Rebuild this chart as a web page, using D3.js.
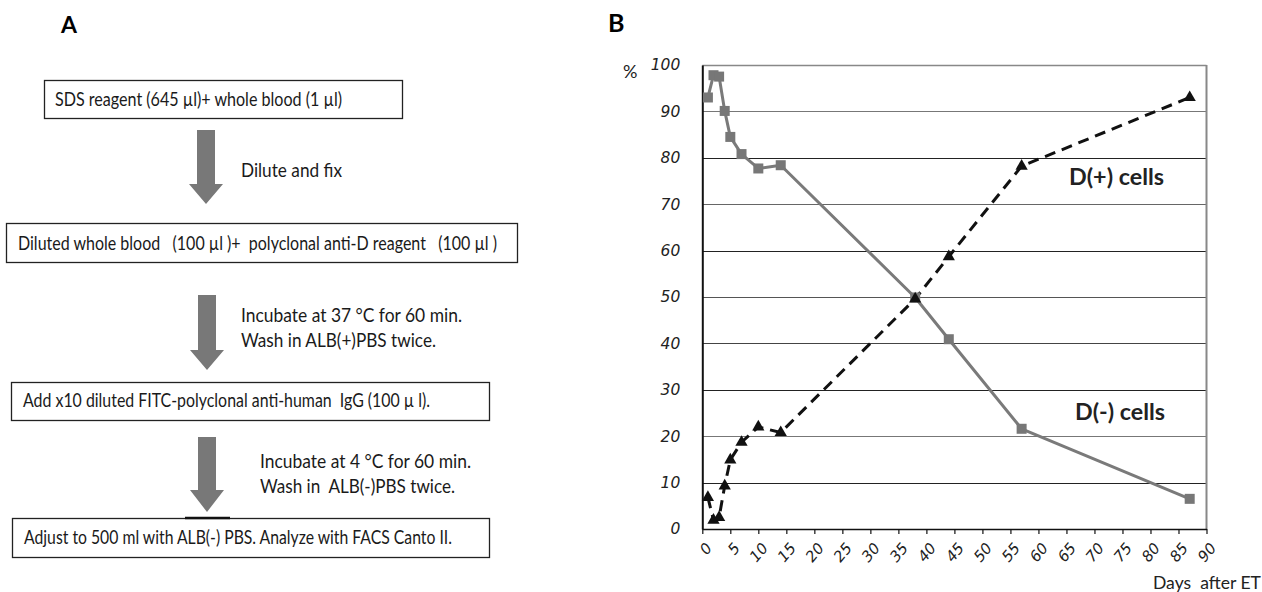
<!DOCTYPE html>
<html>
<head>
<meta charset="utf-8">
<script src="https://cdn.jsdelivr.net/npm/d3@7"></script>
<style>
  body { margin: 0; background: #fff; }
  svg { display: block; }
</style>
</head>
<body>
<div id="chart"></div>
<script>
// days after ET, and % of cells
const days = [1, 2, 3, 4, 5, 7, 10, 14, 38, 44, 57, 87]
const dNeg = [93, 97.8, 97.5, 90.1, 84.5, 80.8, 77.7, 78.4, 49.9, 40.9, 21.6, 6.5]
const dPos = [6.8, 1.9, 2.5, 9.3, 14.9, 18.7, 22, 20.8, 49.6, 58.7, 78.2, 93]
const yTicks = [0, 10, 20, 30, 40, 50, 60, 70, 80, 90, 100]
const xTicks = d3.range(0, 95, 5)

// panel A flow steps
const boxTexts = [
  'SDS reagent (645 \u00b5l)+ whole blood (1 \u00b5l)',
  'Diluted whole blood   (100 \u00b5l )+  polyclonal anti-D reagent   (100 \u00b5l )',
  'Add x10 diluted FITC-polyclonal anti-human  IgG (100 \u00b5 l).',
  'Adjust to 500 ml with ALB(-) PBS. Analyze with FACS Canto II.'
]
const stepTexts = [
  ['Dilute and fix'],
  ['Incubate at 37 \u00b0C for 60 min.', 'Wash in ALB(+)PBS twice.'],
  ['Incubate at 4 \u00b0C for 60 min.', 'Wash in  ALB(-)PBS twice.']
]

const svg = d3.select('#chart').append('svg')
  .attr('width', 1262).attr('height', 592)

const font = 'Lato, "Open Sans", sans-serif'
const tickFont = '"DejaVu Sans", Verdana, sans-serif'

// ---------- panel A ----------
svg.append('text').attr('x', 61).attr('y', 33)
  .attr('font-family', font).attr('font-weight', 'bold').attr('font-size', 23)
  .text('A')

const boxes = [
  { x: 44, y: 80, w: 358, h: 38, tx: 55, ty: 106, tl: 287 },
  { x: 6, y: 223, w: 511, h: 39, tx: 18, ty: 250, tl: 479 },
  { x: 11, y: 382, w: 478, h: 38, tx: 23, ty: 407, tl: 407 },
  { x: 12, y: 518, w: 477, h: 39, tx: 24, ty: 544, tl: 428 }
]
boxes.forEach((b, i) => {
  svg.append('rect')
    .attr('x', b.x + 0.5).attr('y', b.y + 0.5)
    .attr('width', b.w).attr('height', b.h)
    .attr('fill', 'none').attr('stroke', '#222').attr('stroke-width', 1.3)
  svg.append('text')
    .attr('x', b.tx).attr('y', b.ty)
    .attr('font-family', font).attr('font-size', 18.5).attr('fill', '#1a1a1a')
    .attr('textLength', b.tl).attr('lengthAdjust', 'spacingAndGlyphs')
    .style('white-space', 'pre')
    .text(boxTexts[i])
})
// little dark mark on the top of the last box
svg.append('line').attr('x1', 185).attr('x2', 230).attr('y1', 518).attr('y2', 518)
  .attr('stroke', '#111').attr('stroke-width', 2.5)

const arrows = [
  { cx: 206, top: 130, neck: 184, tip: 204 },
  { cx: 207, top: 295, neck: 350, tip: 370 },
  { cx: 207, top: 437, neck: 490, tip: 512 }
]
arrows.forEach(a => {
  const pts = [
    [a.cx - 9, a.top], [a.cx + 9, a.top], [a.cx + 9, a.neck], [a.cx + 17, a.neck],
    [a.cx, a.tip], [a.cx - 17, a.neck], [a.cx - 9, a.neck]
  ]
  svg.append('polygon').attr('points', pts.map(p => p.join(',')).join(' '))
    .attr('fill', '#787878')
})

const stepPos = [
  { x: 241, ys: [177], tl: [101] },
  { x: 241, ys: [322, 347], tl: [221, 195] },
  { x: 260, ys: [468, 493], tl: [211, 195] }
]
stepTexts.forEach((lines, i) => {
  lines.forEach((t, j) => {
    svg.append('text')
      .attr('x', stepPos[i].x).attr('y', stepPos[i].ys[j])
      .attr('font-family', font).attr('font-size', 19).attr('fill', '#1a1a1a')
      .attr('textLength', stepPos[i].tl[j]).attr('lengthAdjust', 'spacingAndGlyphs')
      .style('white-space', 'pre')
      .text(t)
  })
})

// ---------- panel B ----------
svg.append('text').attr('x', 608).attr('y', 32)
  .attr('font-family', font).attr('font-weight', 'bold').attr('font-size', 25)
  .text('B')

const x = d3.scaleLinear().domain([0, 90]).range([702.3, 1206.5])
const y = d3.scaleLinear().domain([0, 100]).range([529, 65])

// gridlines (the scan shows them in mixed greys)
const gridCol = { 10: '#222', 20: '#777', 30: '#222', 40: '#444', 50: '#555', 60: '#222', 70: '#666', 80: '#222', 90: '#777', 100: '#888' }
svg.append('g').selectAll('line')
  .data(yTicks.filter(d => d > 0))
  .join('line')
  .attr('x1', x(0)).attr('x2', x(90))
  .attr('y1', d => Math.round(y(d)) + 0.5).attr('y2', d => Math.round(y(d)) + 0.5)
  .attr('stroke', d => gridCol[d]).attr('stroke-width', d => d === 100 ? 1.5 : 1.2)

// right border
svg.append('line').attr('x1', x(90)).attr('x2', x(90)).attr('y1', y(100)).attr('y2', y(0))
  .attr('stroke', '#888').attr('stroke-width', 2)

// y axis
const yAxis = svg.append('g')
  .attr('transform', `translate(${x(0)},0)`)
  .call(d3.axisLeft(y).tickValues(yTicks).tickSize(0).tickPadding(22))
yAxis.select('.domain').attr('stroke', '#111').attr('stroke-width', 2)
yAxis.selectAll('text')
  .attr('font-family', tickFont).style('font-style', 'italic')
  .attr('font-size', 15.5).attr('fill', '#222')

svg.append('text').attr('x', 623).attr('y', 78)
  .attr('font-family', font).attr('font-size', 18).attr('fill', '#222')
  .text('%')

// x axis
const xAxis = svg.append('g')
  .attr('transform', `translate(0,${y(0)})`)
  .call(d3.axisBottom(x).tickValues(xTicks).tickSize(5).tickSizeOuter(0))
xAxis.select('.domain').attr('stroke', '#111').attr('stroke-width', 1.5)
xAxis.selectAll('.tick line').attr('stroke', '#111').attr('stroke-width', 1.2)
xAxis.selectAll('text')
  .attr('font-family', tickFont).style('font-style', 'italic')
  .attr('font-size', 15).attr('fill', '#222')
  .attr('text-anchor', 'end')
  .attr('dy', '0.35em')
  .attr('y', 0)
  .attr('transform', 'translate(6,16) rotate(-50)')

svg.append('text').attr('x', 1153).attr('y', 589)
  .attr('font-family', font).attr('font-size', 17.5).attr('fill', '#222')
  .attr('textLength', 108).attr('lengthAdjust', 'spacingAndGlyphs')
  .style('white-space', 'pre')
  .text('Days  after ET')

// D(-) series: grey solid with squares, D(+) series: black dashed with triangles
const negData = days.map((d, i) => [d, dNeg[i]])
const posData = days.map((d, i) => [d, dPos[i]])
const line = d3.line().x(d => x(d[0])).y(d => y(d[1]))

svg.append('path').datum(negData)
  .attr('d', line).attr('fill', 'none')
  .attr('stroke', '#7a7a7a').attr('stroke-width', 3).attr('stroke-linejoin', 'round')

svg.append('path').datum(posData)
  .attr('d', line).attr('fill', 'none')
  .attr('stroke', '#111').attr('stroke-width', 3).attr('stroke-dasharray', '11,7')

svg.append('g').selectAll('rect')
  .data(negData)
  .join('rect')
  .attr('x', d => x(d[0]) - 5).attr('y', d => y(d[1]) - 5)
  .attr('width', 10).attr('height', 10)
  .attr('fill', '#777')

svg.append('g').selectAll('path')
  .data(posData)
  .join('path')
  .attr('d', d3.symbol().type(d3.symbolTriangle).size(65))
  .attr('transform', d => `translate(${x(d[0])},${y(d[1])})`)
  .attr('fill', '#111')

// series labels
svg.append('text').attr('x', 1069).attr('y', 185)
  .attr('font-family', font).attr('font-weight', 'bold').attr('font-size', 22).attr('fill', '#222')
  .attr('textLength', 95).attr('lengthAdjust', 'spacingAndGlyphs')
  .text('D(+) cells')
svg.append('text').attr('x', 1075).attr('y', 420)
  .attr('font-family', font).attr('font-weight', 'bold').attr('font-size', 22).attr('fill', '#222')
  .attr('textLength', 90).attr('lengthAdjust', 'spacingAndGlyphs')
  .text('D(-) cells')
</script>
</body>
</html>
